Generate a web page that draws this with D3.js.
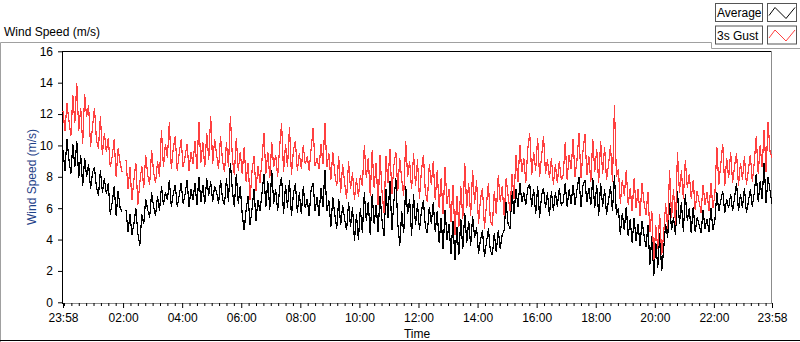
<!DOCTYPE html>
<html><head><meta charset="utf-8">
<script src="https://cdn.jsdelivr.net/npm/d3@7"></script>
<style>
body{margin:0;background:#fff}
svg{display:block;font-family:"Liberation Sans",Arial,sans-serif}
</style>
</head><body>
<svg id="c" width="800" height="342"></svg>
<script>
// ---- data ----
const chartTitle = "Wind Speed (m/s)";
const yTitle = "Wind Speed (m/s)";
const xTitle = "Time";
const seriesNames = ["Average", "3s Gust"];
const seriesColors = ["#000000", "#ff4040"];
const stepMinutes = 4;
const yTickValues = [0, 2, 4, 6, 8, 10, 12, 14, 16];
const xTickLabels = ["23:58","02:00","04:00","06:00","08:00","10:00","12:00","14:00","16:00","18:00","20:00","22:00","23:58"];

const gustValues = [
12.2,10.9,12.7,11.6,10.6,13.2,11.4,14.0,10.9,12.4,
10.1,13.3,11.8,12.6,9.9,11.2,12.4,10.3,9.8,11.9,
9.4,10.8,9.6,10.5,8.6,9.3,10.4,8.0,9.8,8.9,
8.3,null,9.1,7.2,8.6,6.5,7.8,8.9,6.2,7.6,
8.7,7.3,9.4,8.1,7.5,9.7,8.3,7.6,9.0,8.0,
11.0,8.6,10.1,9.2,11.5,8.5,9.8,10.6,8.4,9.5,
10.4,8.6,9.3,10.1,8.4,9.6,8.8,10.3,8.5,11.5,
8.9,10.2,8.6,10.8,9.1,11.9,8.8,10.4,9.4,8.5,
10.6,9.0,8.3,10.2,8.6,11.9,9.2,8.1,10.5,8.4,
9.6,8.2,9.9,7.7,8.9,6.5,8.4,9.3,7.1,8.7,
7.6,9.0,10.8,8.2,9.6,7.9,10.2,8.6,9.4,8.0,
9.9,11.4,8.3,10.1,8.6,11.2,8.1,9.7,10.3,8.4,
9.5,8.5,10.0,8.8,9.3,8.4,9.8,11.1,8.7,9.2,
8.5,10.1,8.8,11.4,8.6,9.5,7.8,9.6,8.2,7.4,
9.3,7.0,8.8,7.6,6.6,9.0,7.2,8.3,6.5,7.9,
6.7,8.1,7.4,10.0,7.9,9.2,6.8,9.7,7.3,8.9,
6.2,9.4,7.0,5.7,9.3,7.6,9.8,6.9,8.7,9.6,
7.1,9.2,7.8,6.8,10.3,8.0,9.0,7.2,9.5,7.4,
9.1,6.6,8.4,9.4,7.0,6.4,8.8,7.5,9.0,6.5,
8.4,6.0,7.9,5.6,8.6,6.3,7.2,5.1,7.5,4.3,
6.8,4.8,7.4,5.3,8.9,6.0,7.6,5.5,8.4,6.3,
7.8,5.0,6.6,7.3,4.7,6.2,7.6,5.2,4.9,7.1,
5.6,8.1,6.4,7.4,5.5,7.9,6.8,5.8,8.2,6.6,
9.4,7.7,10.0,8.3,9.2,7.6,9.8,10.8,8.1,9.6,
8.4,10.5,8.0,9.3,10.6,8.2,9.1,7.9,9.2,7.5,
8.8,7.6,9.0,7.8,8.1,10.2,7.8,9.4,8.5,10.4,
8.0,9.1,10.8,7.9,9.6,10.7,8.1,9.3,7.7,10.4,
8.3,9.8,7.6,10.3,8.2,9.9,7.8,8.8,10.0,7.7,
12.6,8.0,8.5,6.3,7.8,6.8,8.4,6.2,7.3,5.8,
7.9,6.0,7.2,5.5,7.6,6.4,5.6,7.0,4.5,5.8,
2.7,4.9,3.4,5.6,3.0,4.4,6.3,4.7,8.4,5.4,
7.2,4.9,9.6,7.0,8.4,6.6,9.1,7.3,8.2,6.6,
7.8,5.9,7.1,6.4,5.7,7.5,6.2,7.0,5.8,7.6,
6.0,6.9,9.9,7.5,8.8,10.1,7.4,9.2,7.9,9.6,
7.6,8.7,9.5,7.4,8.9,7.8,9.3,7.5,8.4,9.4,
7.7,8.9,10.6,8.2,10.0,8.6,11.0,8.3,11.5,9.6,
9.2];

const averageValues = [
9.7,8.4,10.4,9.1,8.2,10.1,8.6,10.3,7.9,9.4,
7.4,9.2,8.0,8.8,7.2,8.3,8.6,7.3,6.8,8.4,
7.0,7.9,6.9,7.6,5.6,6.4,7.4,5.5,7.1,6.0,
5.8,null,5.9,4.5,5.6,4.3,5.0,6.0,4.4,3.6,
5.6,5.0,6.6,5.9,5.4,7.0,6.1,5.5,6.8,5.8,
7.4,6.2,7.0,6.5,7.8,6.1,6.9,7.5,6.1,6.8,
7.6,6.3,6.9,7.8,6.1,7.2,6.5,7.6,6.2,8.0,
6.4,7.5,6.3,7.9,6.8,7.7,6.4,7.4,7.0,6.3,
7.8,6.6,6.2,7.9,6.4,8.9,7.1,6.1,8.2,6.3,
7.4,5.6,4.6,5.9,6.8,4.9,6.0,7.2,5.2,6.5,
5.8,6.9,8.2,6.1,7.7,5.9,8.4,6.3,7.2,5.8,
7.3,8.0,5.6,7.5,6.0,7.8,5.5,6.9,7.6,5.7,
7.0,5.6,7.4,6.0,6.6,5.5,7.2,7.6,5.8,6.7,
5.5,7.3,6.1,8.4,5.8,6.5,4.8,6.7,5.6,4.7,
6.6,4.9,6.2,5.3,4.6,6.4,4.8,6.1,3.9,5.6,
4.0,6.0,4.4,7.0,5.2,6.4,4.3,6.9,5.0,6.2,
4.5,6.8,5.2,4.2,7.2,5.4,7.7,4.6,6.4,7.9,
5.0,3.6,5.8,4.4,7.4,5.6,6.6,4.2,6.9,4.9,
6.3,4.6,5.8,6.5,4.8,4.4,6.1,5.0,6.4,4.5,
5.8,3.8,5.4,3.4,5.9,4.0,5.0,3.1,5.2,2.7,
4.8,3.0,5.3,3.4,5.7,3.8,5.2,3.6,5.5,4.1,
4.8,3.1,4.0,4.6,2.9,3.8,4.7,3.3,3.0,4.4,
3.2,4.6,3.4,4.3,4.6,6.4,5.0,4.7,7.1,5.6,
7.2,6.1,7.6,6.4,7.0,6.2,7.3,7.5,6.1,7.2,
5.6,7.4,5.4,6.8,7.3,6.0,7.0,5.5,7.1,5.8,
7.0,6.1,7.3,6.2,6.4,7.6,6.1,7.2,6.3,7.5,
6.2,7.2,8.0,6.1,7.4,7.8,6.4,7.3,6.2,7.9,
6.0,7.5,5.5,7.6,6.1,7.2,5.6,6.5,7.4,5.8,
8.1,5.6,6.0,4.3,5.7,4.6,6.1,4.2,5.3,3.8,
5.4,3.9,5.0,3.6,5.2,4.3,3.5,4.9,2.4,4.2,
1.7,3.8,2.2,4.4,2.0,3.4,5.0,4.1,6.3,4.6,
5.4,4.3,7.1,5.0,6.4,4.5,6.9,5.2,6.0,4.4,
6.1,4.5,5.4,4.9,4.4,5.9,4.7,5.3,4.5,6.0,
4.6,5.2,7.0,5.8,6.5,7.1,5.7,6.6,6.0,6.9,
5.8,6.7,7.6,5.8,6.9,6.0,7.3,5.7,6.4,7.2,
6.1,7.0,8.2,6.4,7.7,6.6,8.9,6.3,8.0,7.1,
6.3];

// ---- layout ----
const svg = d3.select("#c");
const W = 800, H = 342;

const start = new Date(2021, 5, 1, 23, 58);
const end = new Date(2021, 5, 2, 23, 58);
const timeAt = i => d3.timeMinute.offset(start, i * stepMinutes);

const majorTimes = xTickLabels.map((lab, i) => {
  const [h, m] = lab.split(":").map(Number);
  return new Date(2021, 5, i === 0 ? 1 : 2, h, m);
});

const x = d3.scaleTime().domain([start, end]).range([63, 772]);
const y = d3.scaleLinear().domain([0, 16]).range([302.3, 51.3]);

svg.append("rect").attr("width", W).attr("height", H).attr("fill", "#fff");

// outer frame
svg.append("path")
  .attr("d", `M0.5,342 V42.5 H711.5 V48.5 H800`)
  .attr("fill", "none").attr("stroke", "#a0a0a0");
svg.append("line").attr("x1", 0).attr("x2", 800).attr("y1", 340.5).attr("y2", 340.5)
  .attr("stroke", "#000");

// chart title
svg.append("text").attr("x", 4).attr("y", 36).attr("font-size", 12).attr("fill", "#000")
  .text(chartTitle);

// legend
const legend = svg.append("g");
seriesNames.forEach((name, k) => {
  const gy = 3.5 + k * 22.5;
  legend.append("rect").attr("x", 715.5).attr("y", gy).attr("width", 47).attr("height", 18)
    .attr("fill", "#fff").attr("stroke", "#555");
  legend.append("text").attr("x", 717).attr("y", gy + 13.5).attr("font-size", 12)
    .attr("fill", "#000").text(name);
  legend.append("rect").attr("x", 767.5).attr("y", gy).attr("width", 29).attr("height", 18)
    .attr("fill", "#fff").attr("stroke", "#555");
  legend.append("path")
    .attr("d", `M769,${gy+12} L775,${gy+4} L786,${gy+15} L795,${gy+4}`)
    .attr("fill", "none").attr("stroke", seriesColors[k]).attr("stroke-width", 1);
});

// plot frame
svg.append("line").attr("x1", 62).attr("x2", 772).attr("y1", 51.5).attr("y2", 51.5).attr("stroke", "#000");
svg.append("line").attr("x1", 771.5).attr("x2", 771.5).attr("y1", 51).attr("y2", 303.5).attr("stroke", "#8c8c8c");
svg.append("line").attr("x1", 62).attr("x2", 772).attr("y1", 303.5).attr("y2", 303.5).attr("stroke", "#8c8c8c");
svg.append("line").attr("x1", 62.5).attr("x2", 62.5).attr("y1", 51).attr("y2", 304).attr("stroke", "#000");

// series
const line = d3.line()
  .defined(d => d != null)
  .x((d, i) => x(timeAt(i)))
  .y(d => y(d));

const plotG = svg.append("g");
[averageValues, gustValues].forEach((vals, k) => {
  plotG.append("path")
    .attr("d", line(vals))
    .attr("fill", "none")
    .attr("stroke", seriesColors[k])
    .attr("stroke-width", 1.2)
    .attr("shape-rendering", "crispEdges");
});

// y axis
const yAxis = d3.axisLeft(y).tickValues(yTickValues).tickSize(4).tickPadding(5);
const gy = svg.append("g").attr("transform", "translate(62,0)").call(yAxis);
gy.select(".domain").remove();
gy.selectAll("text").attr("font-size", 12).attr("font-family", "Liberation Sans, Arial, sans-serif").attr("fill", "#000");
gy.selectAll("line").attr("stroke", "#000");

// x axis minor ticks (every 15 minutes)
const minorTimes = d3.timeMinute.every(15).range(start, end)
  .filter(t => !majorTimes.some(m => +m === +t));
const gxMinor = svg.append("g").attr("transform", "translate(0,303)")
  .call(d3.axisBottom(x).tickValues(minorTimes).tickSize(3).tickFormat(""));
gxMinor.select(".domain").remove();
gxMinor.selectAll("line").attr("stroke", "#000");

// x axis major ticks
const gx = svg.append("g").attr("transform", "translate(0,303)")
  .call(d3.axisBottom(x).tickValues(majorTimes).tickSize(5).tickPadding(5)
    .tickFormat((d, i) => xTickLabels[i]));
gx.select(".domain").remove();
gx.selectAll("line").attr("stroke", "#000");
gx.selectAll("text").attr("font-size", 12).attr("font-family", "Liberation Sans, Arial, sans-serif").attr("fill", "#000");

// axis titles
svg.append("text").attr("x", 417).attr("y", 338).attr("text-anchor", "middle")
  .attr("font-size", 12).attr("fill", "#000").text(xTitle);
svg.append("text")
  .attr("transform", `translate(36,177) rotate(-90)`)
  .attr("text-anchor", "middle").attr("font-size", 12).attr("fill", "#1f4288")
  .text(yTitle);
</script>
</body></html>
